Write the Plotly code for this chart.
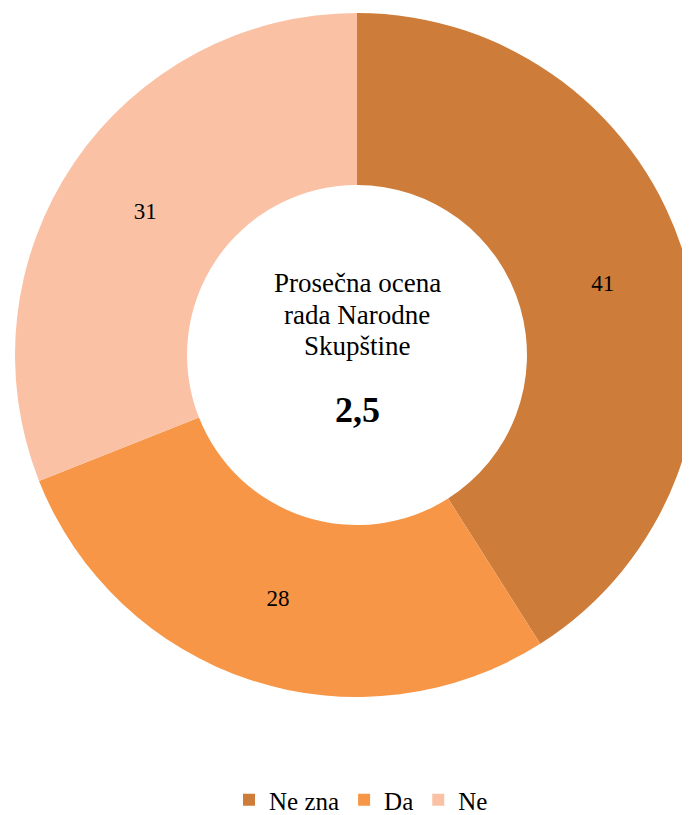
import plotly.graph_objects as go

labels = ["Ne zna", "Da", "Ne"]
values = [41, 28, 31]
colors = ["#CD7C39", "#F79646", "#FAC1A5"]
center_lines = ["Prosečna ocena", "rada Narodne", "Skupštine"]
center_value = "2,5"

# figure is offset by the 8px page margin; work in figure pixels
W, H = 700, 815
cx, cy, r = 349, 347, 342
font_family = "Liberation Serif, serif"


def py(y):
    return (H - y) / H


fig = go.Figure(go.Pie(
    labels=labels, values=values, hole=0.497, sort=False,
    direction="clockwise", rotation=0,
    marker=dict(colors=colors, line=dict(width=0)),
    textinfo="value", textposition="inside", insidetextorientation="horizontal",
    textfont=dict(family=font_family, size=23, color="#000000"),
    domain=dict(x=[(cx - r) / W, (cx + r) / W], y=[py(cy + r), py(cy - r)]),
    hoverinfo="label+value",
))

for i, line in enumerate(center_lines):
    fig.add_annotation(x=cx / W, y=py(275 + 31.5 * i), xref="paper", yref="paper",
                       text=line, showarrow=False, yanchor="middle",
                       font=dict(family=font_family, size=27, color="#000000"))
fig.add_annotation(x=cx / W, y=py(402), xref="paper", yref="paper",
                   text="<b>" + center_value + "</b>", showarrow=False, yanchor="middle",
                   font=dict(family=font_family, size=36, color="#000000"))

fig.update_layout(
    width=W, height=H, margin=dict(l=0, r=0, t=0, b=0, autoexpand=False),
    paper_bgcolor="white", plot_bgcolor="white",
    showlegend=True,
    legend=dict(orientation="h", x=353 / W, xanchor="center", y=py(792), yanchor="middle",
                font=dict(family=font_family, size=25, color="#000000"),
                itemwidth=30, traceorder="normal"),
)

fig.write_html("out.html")
